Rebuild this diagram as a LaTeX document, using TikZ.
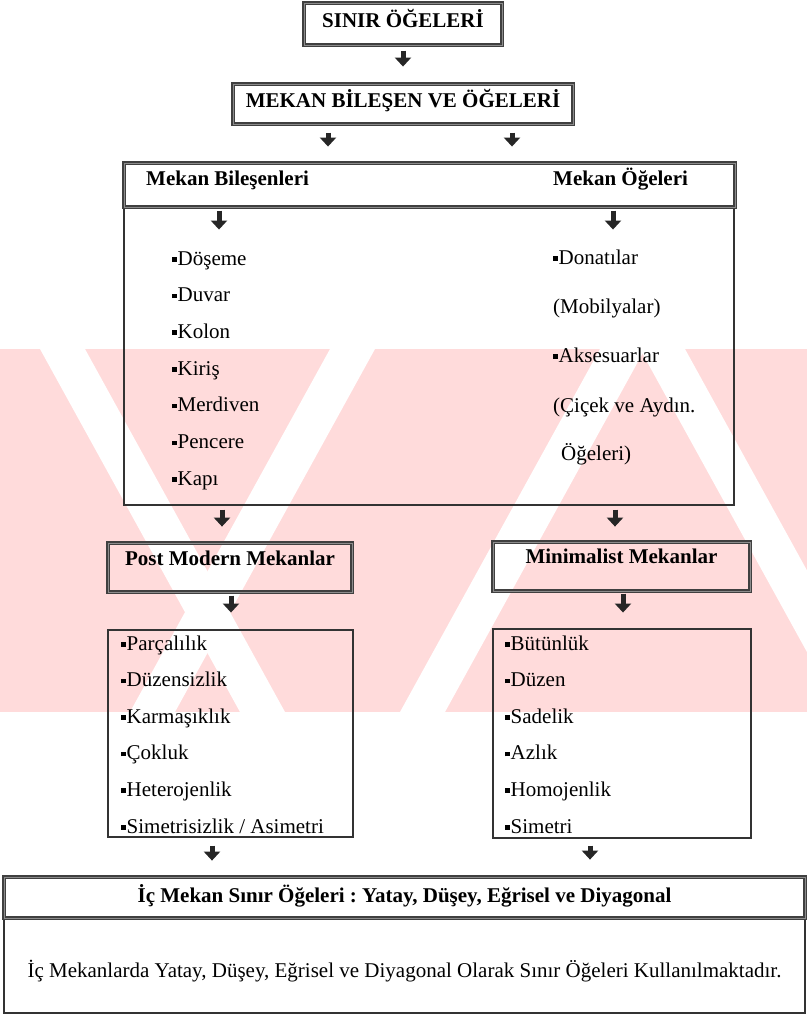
\documentclass[tikz,border=0pt]{standalone}
\usepackage{fontspec}
\setmainfont{Liberation Serif}
\usetikzlibrary{arrows.meta}
\frenchspacing

\newcommand{\sq}{\rule[3.5pt]{4.5pt}{4.5pt}\kern1pt}

\tikzset{
  hbox/.style={draw=black!75, double=black!45, double distance=1pt, line width=1.1pt, inner sep=0pt},
  lbox/.style={draw=black!80, line width=1.2pt, inner sep=0pt},
  hfont/.style={font=\bfseries\fontsize{21}{25}\selectfont},
  itm/.style={font=\fontsize{21}{25}\selectfont, inner sep=0pt, anchor=base west},
  darr/.style={-{Triangle[width=16pt,length=9pt]}, line width=5pt, draw=black!85},
  serit/.style={fill=white},
}

\begin{document}
\begin{tikzpicture}[x=1pt, y=-1pt]
  \useasboundingbox (0,0) rectangle (807,1015);

  % arka plan filigran
  \fill[red!14] (0,349) rectangle (807,712);
  \foreach \a/\b in {40/240, 640/840} {
    \fill[serit] (\a,349) -- (\a+45,349) -- (\b+45,712) -- (\b,712) -- cycle;
  }
  \foreach \a/\b in {130/330, 400/600} {
    \fill[serit] (\a,712) -- (\a+45,712) -- (\b+45,349) -- (\b,349) -- cycle;
  }

  % ust kutular
  \node[hbox, hfont, minimum width=198pt, minimum height=42pt, text height=15pt, text depth=9pt] (sinir) at (403,24) {SINIR ÖĞELERİ};
  \node[hbox, hfont, minimum width=340pt, minimum height=40pt, text height=15pt, text depth=9pt] (mekan) at (403,104) {MEKAN BİLEŞEN VE ÖĞELERİ};

  % bilesenler ve ogeler
  \node[lbox, minimum width=610pt, minimum height=298pt] (govde) at (429,356) {};
  \node[hbox, minimum width=611pt, minimum height=44pt] (baslik) at (429.5,185) {};
  \node[hfont, inner sep=0pt, anchor=base west] (bilesen) at (146,185) {Mekan Bileşenleri};
  \node[hfont, inner sep=0pt, anchor=base west] (oge) at (553,185) {Mekan Öğeleri};
  \foreach \t [count=\i from 0] in {Döşeme, Duvar, Kolon, Kiriş, Merdiven, Pencere, Kapı} {
    \node[itm] (bl\i) at (172, 265+36.7*\i) {\sq\t};
  }
  \node[itm] (og0) at (553,264) {\sq Donatılar};
  \node[itm] (og1) at (553,313) {(Mobilyalar)};
  \node[itm] (og2) at (553,362) {\sq Aksesuarlar};
  \node[itm] (og3) at (553,412) {(Çiçek ve Aydın.};
  \node[itm] (og4) at (561,460) {Öğeleri)};

  % post modern / minimalist
  \node[hbox, hfont, minimum width=244pt, minimum height=49pt, text height=15pt, text depth=20pt] (pm) at (230,567.5) {Post Modern Mekanlar};
  \node[hbox, hfont, minimum width=257pt, minimum height=49pt, text height=15pt, text depth=22pt] (mn) at (621.5,566.5) {Minimalist Mekanlar};
  \node[lbox, minimum width=245pt, minimum height=207pt] (pml) at (230.5,733.5) {};
  \node[lbox, minimum width=258pt, minimum height=209pt] (mnl) at (622,733.5) {};
  \foreach \t [count=\i from 0] in {Parçalılık, Düzensizlik, Karmaşıklık, Çokluk, Heterojenlik, Simetrisizlik / Asimetri} {
    \node[itm] (pm\i) at (121, 650+36.6*\i) {\sq\t};
  }
  \foreach \t [count=\i from 0] in {Bütünlük, Düzen, Sadelik, Azlık, Homojenlik, Simetri} {
    \node[itm] (mn\i) at (505, 650+36.6*\i) {\sq\t};
  }

  % alt kutu
  \node[lbox, minimum width=801pt, minimum height=95pt, font=\fontsize{21}{25}\selectfont, text height=30pt, text depth=7pt] (sonuc) at (404.5,965.5) {İç Mekanlarda Yatay, Düşey, Eğrisel ve Diyagonal Olarak Sınır Öğeleri Kullanılmaktadır.};
  \node[hbox, hfont, minimum width=801pt, minimum height=41pt, text height=15pt, text depth=6pt] (icmekan) at (404.5,897.5) {İç Mekan Sınır Öğeleri : Yatay, Düşey, Eğrisel ve Diyagonal};

  % oklar
  \draw[darr] (sinir.south) ++(0,5) -- ++(0,16);
  \draw[darr] ([xshift=-75pt]mekan.south) ++(0,8) -- ++(0,14);
  \draw[darr] ([xshift=109pt]mekan.south) ++(0,8) -- ++(0,14);
  \draw[darr] ([xshift=-210.5pt]baslik.south) ++(0,3) -- ++(0,19);
  \draw[darr] ([xshift=183.5pt]baslik.south) ++(0,3) -- ++(0,19);
  \draw[darr] ([xshift=-207pt]govde.south) ++(0,4) -- ++(0,17);
  \draw[darr] ([xshift=186pt]govde.south) ++(0,4) -- ++(0,17);
  \draw[darr] ([xshift=1pt]pm.south) ++(0,3) -- ++(0,17);
  \draw[darr] ([xshift=1.5pt]mn.south) ++(0,2) -- ++(0,19);
  \draw[darr] ([xshift=-18.5pt]pml.south) ++(0,8) -- ++(0,15);
  \draw[darr] ([xshift=-32pt]mnl.south) ++(0,7) -- ++(0,14);
\end{tikzpicture}
\end{document}
